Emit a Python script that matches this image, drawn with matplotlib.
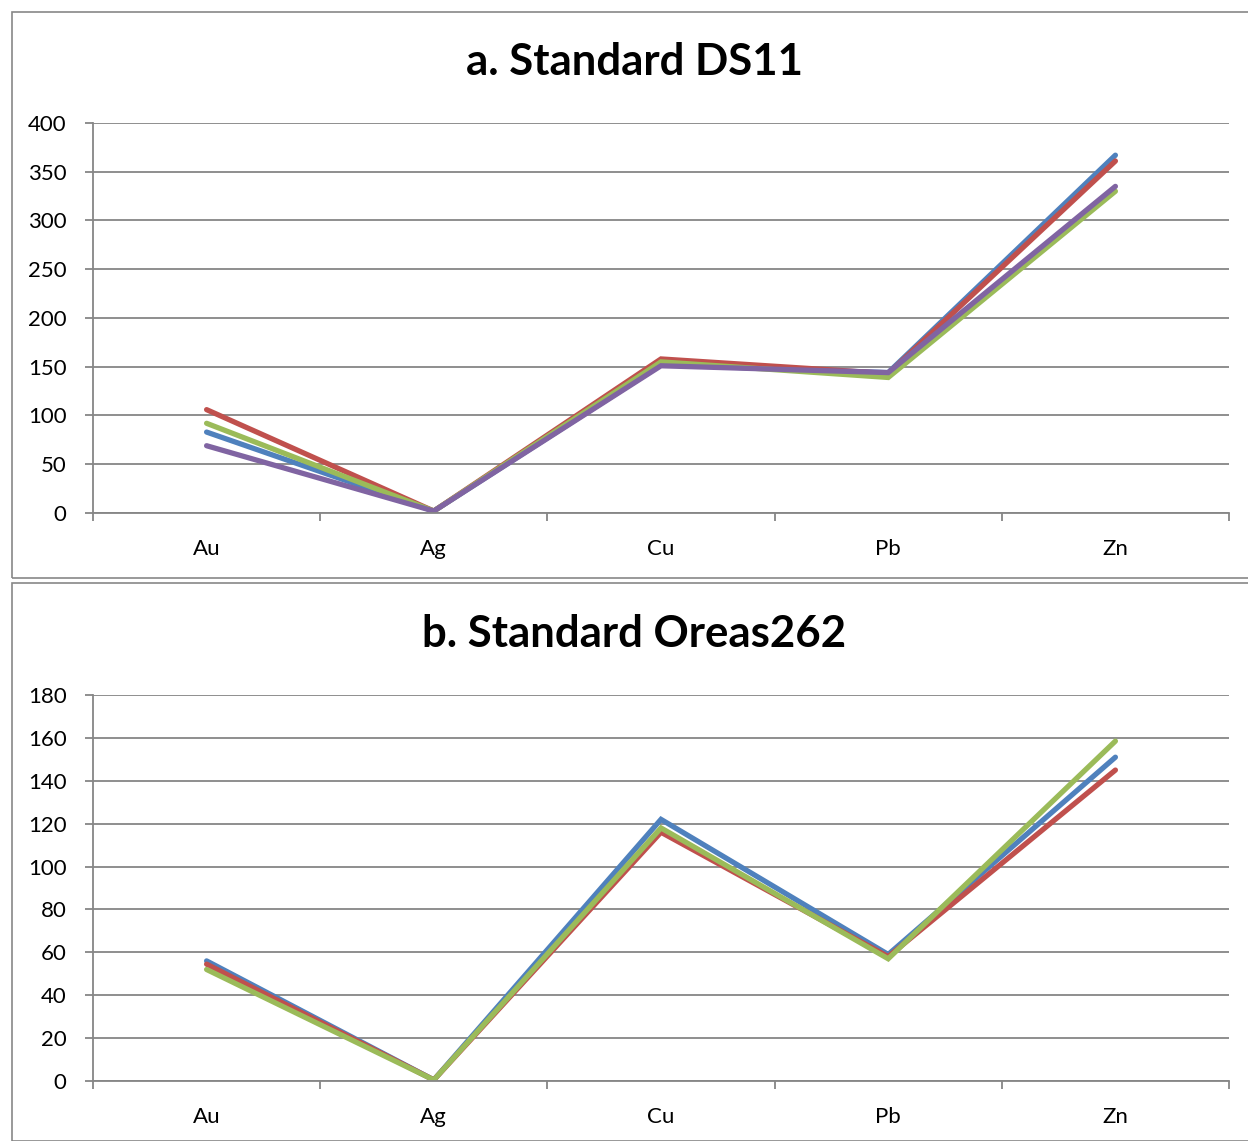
import matplotlib
matplotlib.use("Agg")
import matplotlib.pyplot as plt
from matplotlib.patches import Rectangle
import numpy as np

plt.rcParams['font.family'] = ['Lato', 'DejaVu Sans']

categories = ["Au", "Ag", "Cu", "Pb", "Zn"]

# Chart a: Standard DS11
ds11_blue = [83, 2, 152, 144, 367]
ds11_red = [106, 2, 158, 143, 361]
ds11_green = [92, 2, 155, 139, 330]
ds11_purple = [69, 2, 151, 144, 335]

# Chart b: Standard Oreas262
or_blue = [56, 0.5, 122, 59, 151]
or_red = [54.5, 0.5, 116, 58, 145]
or_green = [52, 0.5, 118, 57, 158.5]

title_a = "a. Standard DS11"
title_b = "b. Standard Oreas262"
yticks_a = [0, 50, 100, 150, 200, 250, 300, 350, 400]
yticks_b = [0, 20, 40, 60, 80, 100, 120, 140, 160, 180]

C_BLUE = "#4F81BD"
C_RED = "#C0504D"
C_GREEN = "#9BBB59"
C_PURPLE = "#8064A2"

W, H = 1248, 1141
fig = plt.figure(figsize=(W / 100, H / 100), dpi=100)

def fx(px):
    return px / W

def fy(py):
    return 1 - py / H

# chart borders
fig.add_artist(Rectangle((fx(12), fy(578)), fx(1250) - fx(12), fy(12) - fy(578),
                         transform=fig.transFigure, fill=False, edgecolor="#878787", lw=1.2))
fig.add_artist(Rectangle((fx(12), fy(1141)), fx(1250) - fx(12), fy(583) - fy(1141),
                         transform=fig.transFigure, fill=False, edgecolor="#878787", lw=1.2))


def make_chart(top, bottom, title, title_y, yticks, series):
    ax = fig.add_axes([fx(93), fy(bottom), fx(1229) - fx(93), fy(top) - fy(bottom)])
    x = np.arange(len(categories))
    for vals, col in series:
        ax.plot(x, vals, color=col, lw=3.8, solid_capstyle='round', solid_joinstyle='miter')
    ax.set_xlim(-0.5, len(categories) - 0.5)
    ax.set_ylim(yticks[0], yticks[-1])
    ax.set_yticks(yticks)
    ax.set_yticklabels([str(v) for v in yticks], fontsize=16)
    ax.yaxis.grid(True, color="#868686", lw=1.3)
    ax.set_axisbelow(True)
    ax.set_xticks(np.arange(-0.5, len(categories), 1.0))
    ax.set_xticklabels([])
    ax.set_xticks(x, minor=True)
    ax.set_xticklabels(categories, minor=True, fontsize=16)
    ax.tick_params(axis='x', which='minor', length=0, pad=18.5)
    ax.tick_params(axis='x', which='major', length=6, color="#868686", width=1.3)
    ax.tick_params(axis='y', length=6, color="#868686", width=1.3, pad=13)
    for s in ["top", "right"]:
        ax.spines[s].set_visible(False)
    ax.spines["bottom"].set_color("#868686")
    ax.spines["bottom"].set_linewidth(1.3)
    ax.spines["left"].set_color("#868686")
    ax.spines["left"].set_linewidth(1.3)
    fig.text(fx(634), fy(title_y), title, ha='center', va='center', fontsize=31.5, fontweight='bold')
    return ax


make_chart(123, 513, title_a, 62, yticks_a,
           [(ds11_blue, C_BLUE), (ds11_red, C_RED), (ds11_green, C_GREEN), (ds11_purple, C_PURPLE)])
make_chart(695, 1081, title_b, 634, yticks_b,
           [(or_blue, C_BLUE), (or_red, C_RED), (or_green, C_GREEN)])

fig.savefig("out.png", dpi=100)
